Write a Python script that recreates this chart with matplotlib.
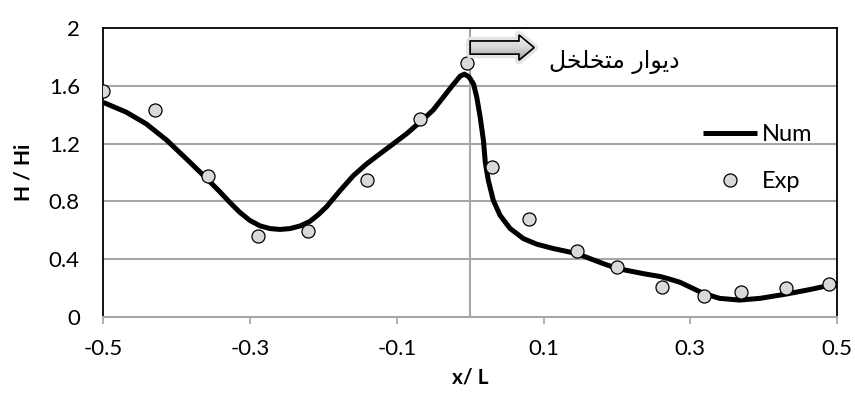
import numpy as np
import matplotlib
matplotlib.use("Agg")
import matplotlib.pyplot as plt
from matplotlib.patches import FancyArrow
from matplotlib.lines import Line2D

# ---------------- data ----------------
num_x = [-0.500, -0.469, -0.442, -0.414, -0.387, -0.360, -0.3412, -0.3275,
         -0.314, -0.3003, -0.2867, -0.273, -0.2594, -0.2457, -0.232, -0.2185,
         -0.2072, -0.1957, -0.1776, -0.1594, -0.1412, -0.123, -0.1049, -0.0866,
         -0.0685, -0.051, -0.0388, -0.025, -0.0136, -0.008, -0.0016, 0.0045,
         0.009, 0.0136, 0.018, 0.0205, 0.0246, 0.0314, 0.0406, 0.0542, 0.0723,
         0.0906, 0.1132, 0.136, 0.150, 0.181, 0.200, 0.236, 0.259, 0.272,
         0.286, 0.318, 0.340, 0.367, 0.395, 0.431, 0.463, 0.490, 0.500]
num_y = [1.485, 1.418, 1.338, 1.225, 1.095, 0.962, 0.866, 0.792,
         0.724, 0.668, 0.631, 0.612, 0.606, 0.612, 0.630, 0.662,
         0.708, 0.764, 0.874, 0.978, 1.060, 1.130, 1.199, 1.269,
         1.349, 1.430, 1.508, 1.598, 1.668, 1.681, 1.662, 1.612,
         1.519, 1.381, 1.221, 1.070, 0.946, 0.808, 0.704, 0.613, 0.543,
         0.504, 0.474, 0.449, 0.430, 0.370, 0.336, 0.300, 0.280, 0.262,
         0.240, 0.163, 0.129, 0.117, 0.129, 0.159, 0.190, 0.220, 0.225]

exp_x = [-0.500, -0.430, -0.357, -0.289, -0.221, -0.141, -0.0685, -0.005,
         0.030, 0.080, 0.145, 0.200, 0.261, 0.318, 0.369, 0.4305, 0.4895]
exp_y = [1.566, 1.432, 0.975, 0.559, 0.593, 0.945, 1.370, 1.760,
         1.037, 0.676, 0.455, 0.347, 0.209, 0.147, 0.175, 0.202, 0.228]

x_ticks = [-0.5, -0.3, -0.1, 0.1, 0.3, 0.5]
x_tick_labels = ["-0.5", "-0.3", "-0.1", "0.1", "0.3", "0.5"]
y_ticks = [0, 0.4, 0.8, 1.2, 1.6, 2.0]
y_tick_labels = ["0", "0.4", "0.8", "1.2", "1.6", "2"]

series_names = ["Num", "Exp"]
x_label = "x/ L"
y_label = "H / Hi"
# "دیوار متخلخل" in presentation forms, visual (left-to-right) order
wall_label = "\uFEDE\uFEA8\uFEE0\uFEA8\uFE98\uFEE3 \uFEAD\uFE8D\uFEEE\uFBFE\uFEA9"

# ---------------- style ----------------
plt.rcParams['font.family'] = ['Lato', 'DejaVu Sans']
grid_col = '#a6a6a6'

fig = plt.figure(figsize=(8.55, 4.01), dpi=100)
ax = fig.add_axes([0.121, 0.2095, 0.858, 0.7205])

ax.set_xlim(-0.5, 0.5)
ax.set_ylim(0, 2)

for yv in y_ticks[1:-1]:
    ax.axhline(yv, color=grid_col, lw=1.5, zorder=1)
ax.axvline(0, color=grid_col, lw=1.5, zorder=1)

ax.plot(num_x, num_y, color='black', lw=3.6, solid_capstyle='butt',
        solid_joinstyle='round', zorder=3, label=series_names[0])
ax.scatter(exp_x, exp_y, s=9.4**2, facecolor='#d9d9d9', edgecolor='black',
           linewidths=0.9, zorder=4, label=series_names[1])

ax.set_xticks(x_ticks)
ax.set_xticklabels(x_tick_labels)
ax.set_yticks(y_ticks)
ax.set_yticklabels(y_tick_labels)
ax.tick_params(axis='x', direction='out', length=5, width=1.2, color=grid_col,
               labelsize=16, pad=11)
ax.tick_params(axis='y', length=0, labelsize=16, pad=17)

for s in ['left', 'top', 'right']:
    ax.spines[s].set_color('black')
    ax.spines[s].set_linewidth(1.3)
ax.spines['bottom'].set_color(grid_col)
ax.spines['bottom'].set_linewidth(1.5)

ax.set_xlabel(x_label, fontsize=15, fontweight='bold', labelpad=6)
ax.set_ylabel(y_label, fontsize=15, fontweight='bold', labelpad=11)

# arrow annotation
arrow_kw = dict(width=0.09, head_width=0.173, head_length=0.0205,
                length_includes_head=True, clip_on=False)
glow = FancyArrow(0.0, 1.865, 0.087, 0.0, facecolor='none',
                  edgecolor='#e4e4e4', lw=6, zorder=5, joinstyle='round',
                  **arrow_kw)
ax.add_patch(glow)
arr = FancyArrow(0.0, 1.865, 0.087, 0.0, facecolor='#cfcfcf',
                 edgecolor='black', lw=1.1, zorder=6, **arrow_kw)
ax.add_patch(arr)
grad = np.linspace(1, 0, 64).reshape(-1, 1)
im = ax.imshow(grad, extent=[0.0, 0.087, 1.865 - 0.0865, 1.865 + 0.0865],
               cmap=matplotlib.colors.LinearSegmentedColormap.from_list(
                   'g', ['#9a9a9a', '#d8d8d8', '#f2f2f2']),
               aspect='auto', zorder=6.5)
im.set_clip_path(arr)
arr2 = FancyArrow(0.0, 1.865, 0.087, 0.0, facecolor='none',
                  edgecolor='black', lw=1.1, zorder=7, **arrow_kw)
ax.add_patch(arr2)
ax.set_xlim(-0.5, 0.5)
ax.set_ylim(0, 2)

ax.text(0.196, 1.765, wall_label, family=['DejaVu Sans'], fontsize=17,
        ha='center', va='center', zorder=8)

# legend
h_line = Line2D([], [], color='black', lw=3.6, solid_capstyle='butt')
h_pts = Line2D([], [], ls='none', marker='o', markersize=9.4,
               markerfacecolor='#d9d9d9', markeredgecolor='black',
               markeredgewidth=0.9)
ax.legend([h_line, h_pts], series_names, loc='upper left',
          bbox_to_anchor=(0.817, 0.667), frameon=False, fontsize=17,
          handlelength=2.3, handletextpad=0.2, labelspacing=1.1,
          borderpad=0, borderaxespad=0)

fig.savefig('out.png', dpi=100)
